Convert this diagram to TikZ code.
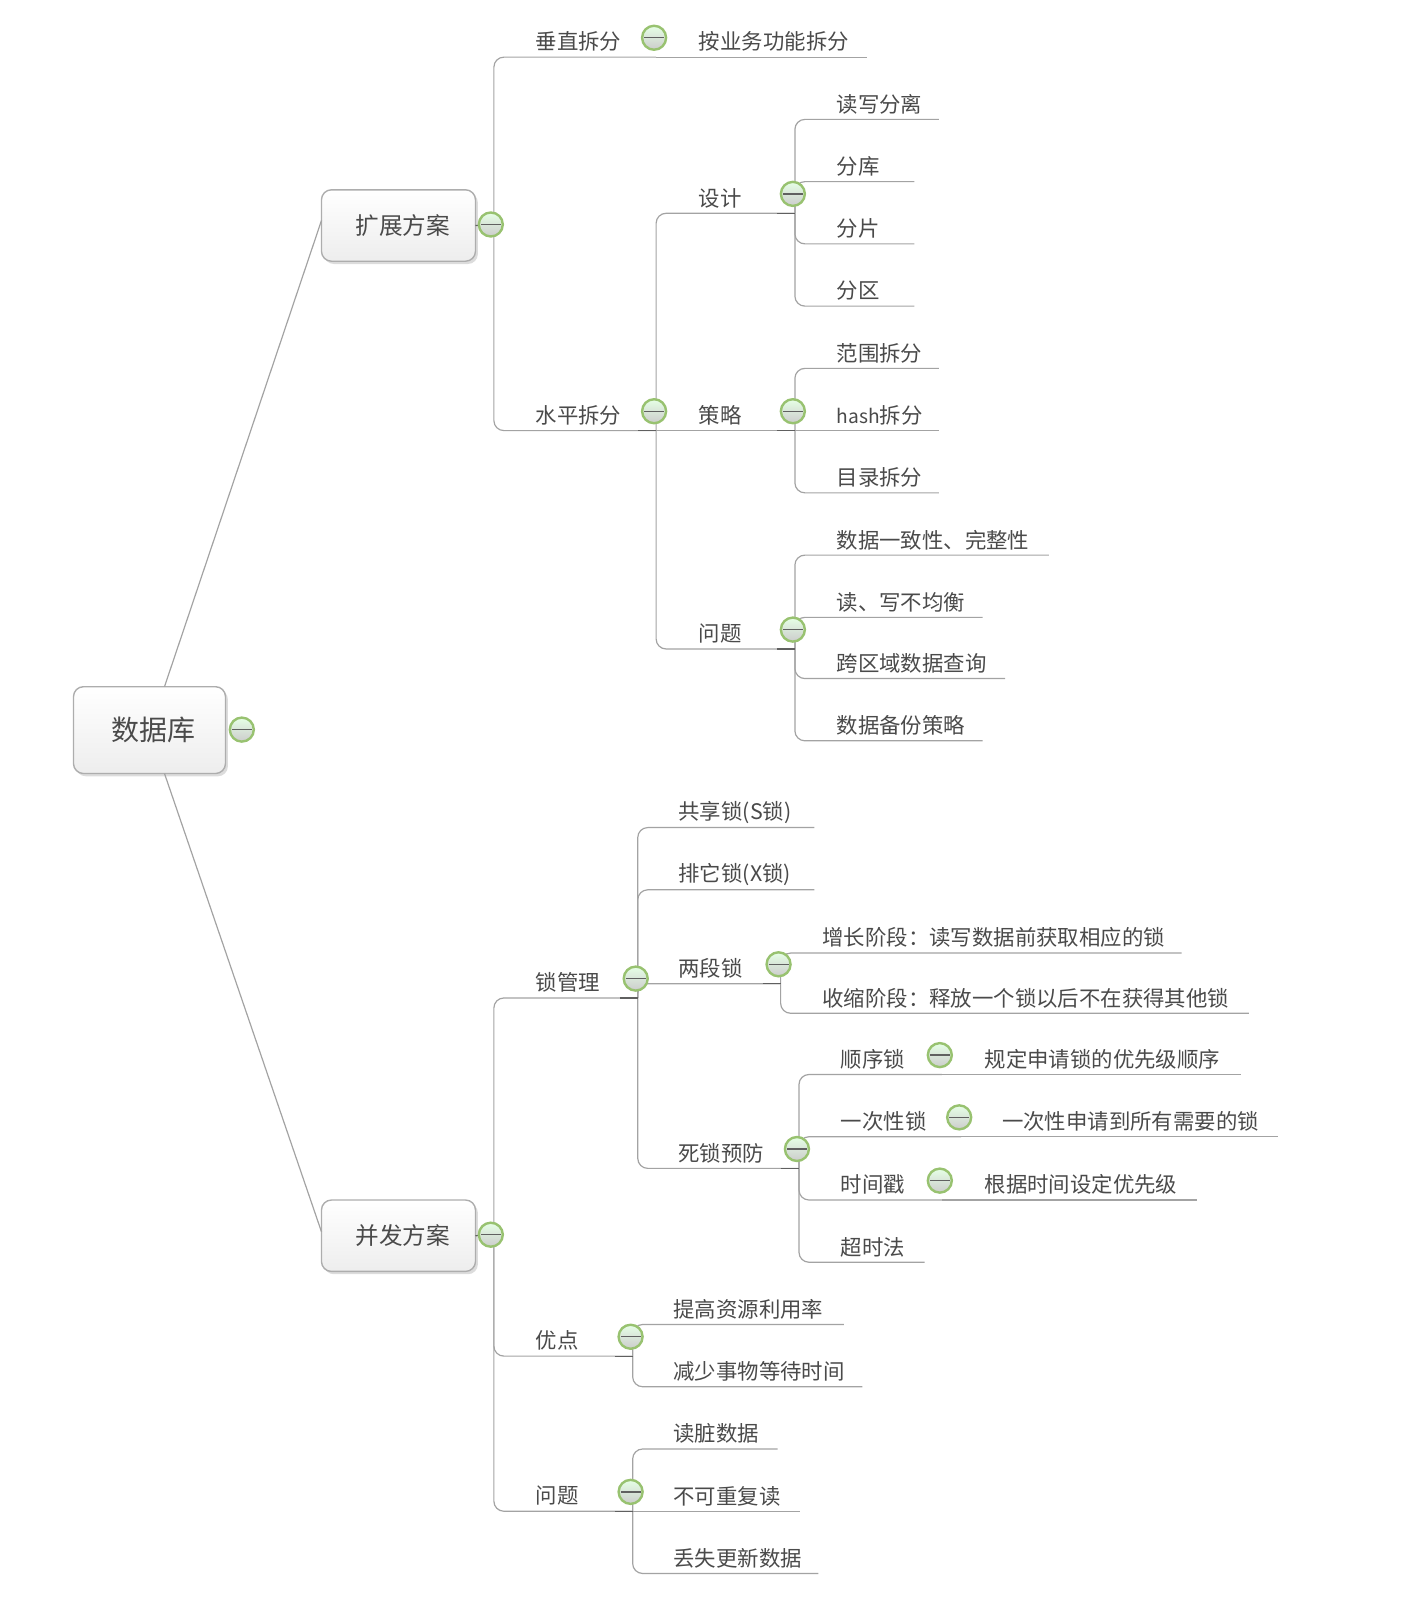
\documentclass[tikz,border=0pt]{standalone}
\usepackage{fontspec}
\setmainfont{Noto Sans CJK SC}
\usetikzlibrary{
  shadows,
}
\definecolor{linegray}{HTML}{A3A3A3}
\definecolor{stubgray}{HTML}{606060}
\definecolor{textgray}{HTML}{4A4A4A}
\definecolor{ringgreen}{HTML}{98C270}
\def\pxu{0.5101}
\tikzset{
  branch/.style={draw=linegray, line width=0.6pt, rounded corners=5pt},
  stub/.style={draw=stubgray, line width=0.6pt},
  flat/.style={sharp corners},
  edge func/.style={flat},
  edge strat/.style={flat},
  edge hash/.style={flat},
  edge prio/.style={flat},
  edge all/.style={flat},
  edge tprio/.style={flat},
  edge nonrep/.style={flat},
  topic/.style={
    anchor=south west, inner sep=0pt, outer sep=0pt, minimum height=15.3pt,
    align=left, text=textgray, font=\fontsize{10.7}{12}\selectfont,
  },
  box/.style={
    draw=black!32, line width=0.7pt, rounded corners=5pt, inner sep=0pt, outer sep=0pt,
    top color=white, bottom color=black!7, text=textgray,
    drop shadow={shadow xshift=1.2pt, shadow yshift=-1.4pt, fill=black!30, opacity=0.45},
  },
  joint/.style={inner sep=0pt, outer sep=0pt, minimum size=0pt},
  fold/.style={
    circle, draw=ringgreen, line width=1.2pt, minimum size=12pt, inner sep=0pt,
    top color=green!10!white, bottom color=black!20,
    path picture={
      \draw[stubgray, line width=0.7pt]
        ([xshift=1pt]path picture bounding box.west) -- ([xshift=-1pt]path picture bounding box.east);
    },
  },
}
\begin{document}
\begin{tikzpicture}[x=\pxu pt, y=-\pxu pt]
\useasboundingbox (0,0) rectangle (1385,1568);

\node[box, minimum width=76pt, minimum height=43.4pt, font=\fontsize{14}{16}\selectfont] (root) at (146.5,715.5) {\hspace{4.5pt}\raisebox{-1pt}{数据库}};
\node[box, minimum width=77pt, minimum height=35.7pt, font=\fontsize{11.8}{14}\selectfont] (ext) at (390.5,221) {\hspace{4.5pt}扩展方案};
\node[box, minimum width=77pt, minimum height=35.7pt, font=\fontsize{11.8}{14}\selectfont] (con) at (390.5,1211) {\hspace{4.5pt}并发方案};
\node[joint] (jext) at (484,220) {};
\node[joint] (jcon) at (484,1210) {};

\draw[branch] ([xshift=7.5pt]root.north) -- ([yshift=2.5pt]ext.west);
\draw[branch] ([xshift=7.5pt]root.south) -- ([yshift=2pt]con.west);
\draw[stub] (ext.east) -- (jext);
\draw[stub] (con.east) -- (jcon);

% name / parent / text left / line y / line end / text
\foreach \nm/\up/\l/\y/\e/\tx in {
  vert/jext/525/56/643/垂直拆分,
  func/vert/685/56/850/按业务功能拆分,
  hori/jext/525/422/643/水平拆分,
  design/hori/685/209/779/设计,
  rw/design/820/117/920/读写分离,
  db/design/820/178/896/分库,
  shard/design/820/239/896/分片,
  part/design/820/300/896/分区,
  strat/hori/685/422/779/策略,
  range/strat/820/361/920/范围拆分,
  hash/strat/820/422/920/{\fontsize{9.6}{12}\selectfont hash}拆分,
  dir/strat/820/483/920/目录拆分,
  issue/hori/685/636/779/问题,
  cons/issue/820/544/1028/数据一致性、完整性,
  load/issue/820/605/963/读、写不均衡,
  query/issue/820/665/985/跨区域数据查询,
  backup/issue/820/726/963/数据备份策略,
  lock/jcon/525/978/625/锁管理,
  share/lock/665/811/798/共享锁(S锁),
  excl/lock/665/872/798/排它锁(X锁),
  twoph/lock/665/964/765/两段锁,
  grow/twoph/806/934/1158/增长阶段：读写数据前获取相应的锁,
  shrink/twoph/806/993/1224/收缩阶段：释放一个锁以后不在获得其他锁,
  dead/lock/665/1145/783/死锁预防,
  seq/dead/824/1053/923/顺序锁,
  prio/seq/965/1053/1216/规定申请锁的优先级顺序,
  once/dead/824/1114/942/一次性锁,
  all/once/982/1114/1252/一次性申请到所有需要的锁,
  stamp/dead/824/1176/923/时间戳,
  tprio/stamp/965/1176/1173/根据时间设定优先级,
  tout/dead/824/1237/906/超时法,
  gain/jcon/525/1329/620/优点,
  usage/gain/660/1298/827/提高资源利用率,
  wait/gain/660/1359/845/减少事物等待时间,
  prob/jcon/525/1481/620/问题,
  dirty/prob/660/1420/762/读脏数据,
  nonrep/prob/660/1481/784/不可重复读,
  lost/prob/660/1542/802/丢失更新数据%
} {
  \pgfmathsetlengthmacro\linelen{(\e-\l)*\pxu}
  \node[topic, text width=\linelen] (\nm) at (\l,\y) {\tx};
  \draw[branch, edge \nm/.try] (\up.south east) |- (\nm.south east);
}

\foreach \nm in {hori,design,strat,issue,lock,twoph,dead,gain,prob} {
  \draw[stub] ([xshift=-9pt]\nm.south east) -- (\nm.south east);
}

\node[fold] (froot) at (237,715) {};
\node[fold] (fext) at (481,220) {};
\node[fold] (fcon) at (481,1210) {};
\foreach \nm in {vert,hori,design,strat,issue,lock,twoph,dead,seq,once,stamp,gain,prob} {
  \node[fold] (f\nm) at ([shift={(-2,-19)}]\nm.south east) {};
}
\end{tikzpicture}
\end{document}
